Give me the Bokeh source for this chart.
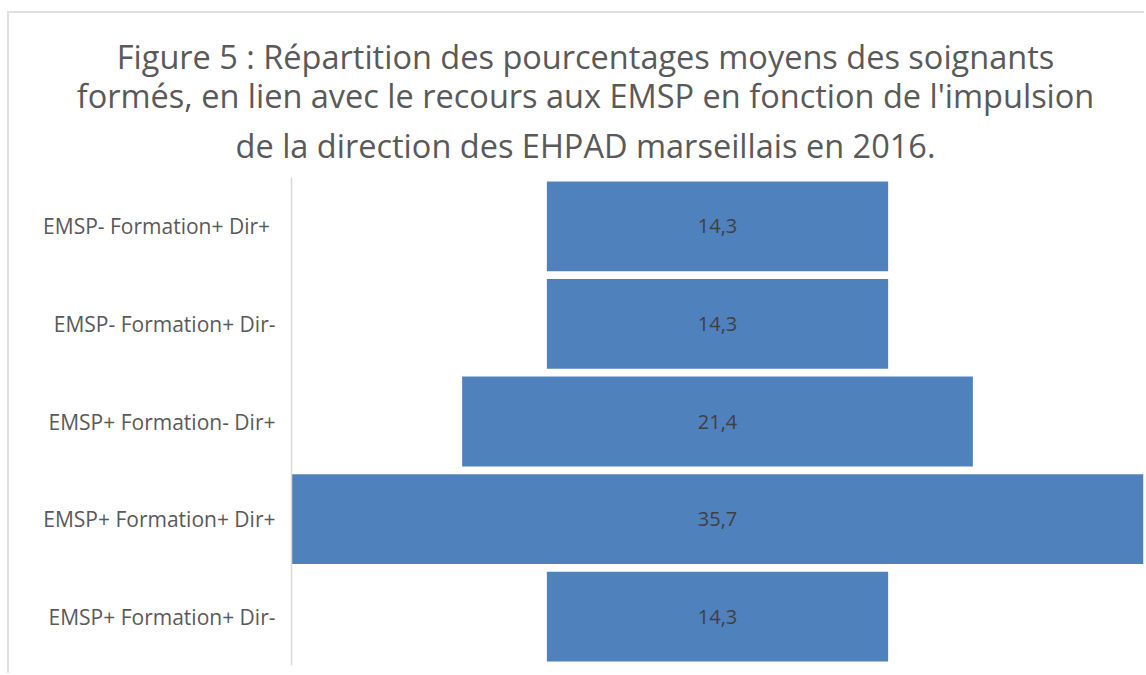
from bokeh.plotting import figure
from bokeh.models import Range1d, FactorRange, Title, Span, ColumnDataSource
from bokeh.core.properties import value
from bokeh.embed import file_html
from bokeh.resources import INLINE

categories = ["EMSP-  Formation+ Dir+", "EMSP- Formation+ Dir-", "EMSP+ Formation- Dir+",
              "EMSP+ Formation+ Dir+", "EMSP+ Formation+ Dir-"]
values = [14.3, 14.3, 21.4, 35.7, 14.3]
title_lines = ["Figure 5 : Répartition des pourcentages moyens des soignants",
               "formés, en lien avec le recours aux EMSP en fonction de l'impulsion",
               "de la direction des EHPAD marseillais en 2016."]

FONT = "Open Sans"
half = max(values) / 2

# layout (pixels, canvas coordinates)
W, H = 1137, 662
FRAME_L, FRAME_R, AXIS_X = 18, 1134, 282
px_per_unit = (FRAME_R - AXIS_X) / (2 * half)
x_start = -half - (AXIS_X - FRAME_L) / px_per_unit

src = ColumnDataSource(dict(
    cat=categories,
    left=[-v / 2 for v in values],
    right=[v / 2 for v in values],
    x=[0] * len(values),
    lab=[f"{v:.1f}".replace(".", ",") for v in values],
    ax=[-half] * len(values),
))

p = figure(width=W, height=H, output_backend="svg", toolbar_location=None,
           x_range=Range1d(x_start, half), y_range=FactorRange(*reversed(categories)),
           min_border_left=FRAME_L, min_border_right=W - FRAME_R, min_border_bottom=10,
           min_border_top=164, x_axis_location=None, y_axis_location=None)
p.styles = {"border-top": "2px solid #e0e0e0", "border-left": "2px solid #e0e0e0",
            "margin-left": "7px", "margin-top": "11px"}

p.hbar(y="cat", left="left", right="right", height=0.92, source=src,
       fill_color="#4F81BD", line_color=None)
p.text(x="x", y="cat", text="lab", source=src, text_align="center", text_baseline="middle",
       text_font=value(FONT), text_font_size="20px", text_color="#404040")
# category labels, right-aligned against the vertical axis line
p.text(x="ax", y="cat", text="cat", source=src, x_offset=-16, text_align="right",
       text_baseline="middle", text_font=value(FONT), text_font_size="21px",
       text_color="#595959")
p.add_layout(Span(location=-half, dimension="height", line_color="#D9D9D9", line_width=1.5))

p.grid.visible = False
p.outline_line_color = None

p.title.visible = False


def make_title(text, so):
    kw = dict(text=text, align="center", text_font=FONT, text_font_size="32.5px",
              text_font_style="normal", text_color="#595959")
    try:
        return Title(standoff=so, **kw)
    except Exception:
        return Title(standoff=max(so, 0), **kw)


# nearest the frame first
specs = [(title_lines[2], 19), (title_lines[1], -13), (title_lines[0], -2)]
for line, so in specs:
    p.add_layout(make_title(line, so), "above")

open("out.html", "w").write(file_html(p, INLINE))
